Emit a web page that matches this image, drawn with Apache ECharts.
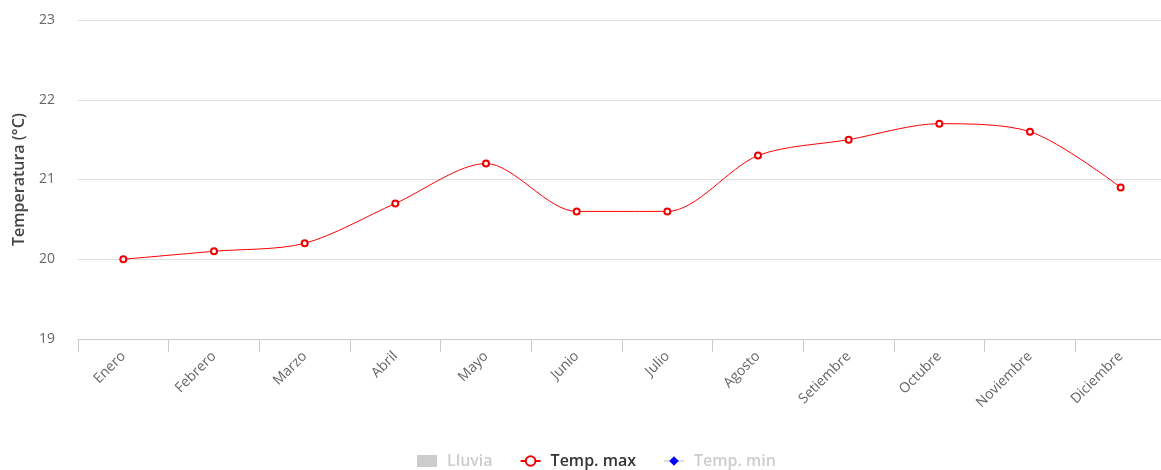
<!DOCTYPE html>
<html>
<head>
<meta charset="utf-8">
<script src="https://cdn.jsdelivr.net/npm/echarts@6/dist/echarts.min.js"></script>
<style>
html,body{margin:0;padding:0;background:#fff;overflow:hidden;}
#chart{width:1170px;height:470px;}
</style>
</head>
<body>
<div id="chart"></div>
<script>
const months = ['Enero','Febrero','Marzo','Abril','Mayo','Junio','Julio','Agosto','Setiembre','Octubre','Noviembre','Diciembre'];
const tempMax = [20.0, 20.1, 20.2, 20.7, 21.2, 20.6, 20.6, 21.3, 21.5, 21.7, 21.6, 20.9];
const lluvia = [];   // hidden series in the reference
const tempMin = [];  // hidden series in the reference
const yTicks = { min: 19, max: 23, interval: 1 };

const chart = echarts.init(document.getElementById('chart'), null, {renderer: 'canvas'});
const font = '"Open Sans", "Noto Sans", sans-serif';
chart.setOption({
  animation: false,
  textStyle: { fontFamily: font },
  grid: { left: 78, top: 20, width: 1088, height: 319, containLabel: false },
  legend: {
    left: 412, top: 448,
    itemGap: 27, itemWidth: 20, itemHeight: 12,
    textStyle: { fontFamily: font, fontSize: 16, fontWeight: 600, color: '#333', padding: [0, 0, 0, 5] },
    data: [
      { name: 'Lluvia', icon: 'rect', itemStyle: { color: '#cccccc' }, textStyle: { color: '#cccccc' } },
      { name: 'Temp. max' },
      { name: 'Temp. min', itemStyle: { color: '#0000ff' }, lineStyle: { color: '#dddddd' }, textStyle: { color: '#cccccc' } }
    ]
  },
  xAxis: {
    type: 'category',
    data: months,
    boundaryGap: true,
    axisLine: { lineStyle: { color: '#cccccc', width: 1 } },
    axisTick: { show: true, length: 13, alignWithLabel: false, lineStyle: { color: '#cccccc' } },
    axisLabel: { rotate: 45, color: '#666', fontSize: 14, fontFamily: font, margin: 15 },
    splitLine: { show: false }
  },
  yAxis: {
    type: 'value',
    min: yTicks.min, max: yTicks.max, interval: yTicks.interval,
    name: 'Temperatura (°C)',
    nameLocation: 'middle',
    nameGap: 51,
    nameTextStyle: { color: '#444', fontSize: 16, fontWeight: 600, fontFamily: font },
    axisLine: { show: false },
    axisTick: { show: false },
    axisLabel: { color: '#666', fontSize: 14, fontFamily: font, margin: 23 },
    splitLine: { lineStyle: { color: '#e0e0e0', width: 1 } }
  },
  series: [
    { name: 'Lluvia', type: 'bar', data: lluvia, itemStyle: { color: '#cccccc' } },
    {
      name: 'Temp. max', type: 'line', data: tempMax,
      smooth: 0.3,
      symbol: 'circle', symbolSize: 6, showSymbol: true,
      lineStyle: { color: '#ff0000', width: 1 },
      itemStyle: { color: '#ffffff', borderColor: '#ee0000', borderWidth: 2 }
    },
    {
      name: 'Temp. min', type: 'line', data: tempMin,
      symbol: 'diamond', symbolSize: 8,
      lineStyle: { color: '#0000ff', width: 1 },
      itemStyle: { color: '#0000ff' }
    }
  ]
});
</script>
</body>
</html>
